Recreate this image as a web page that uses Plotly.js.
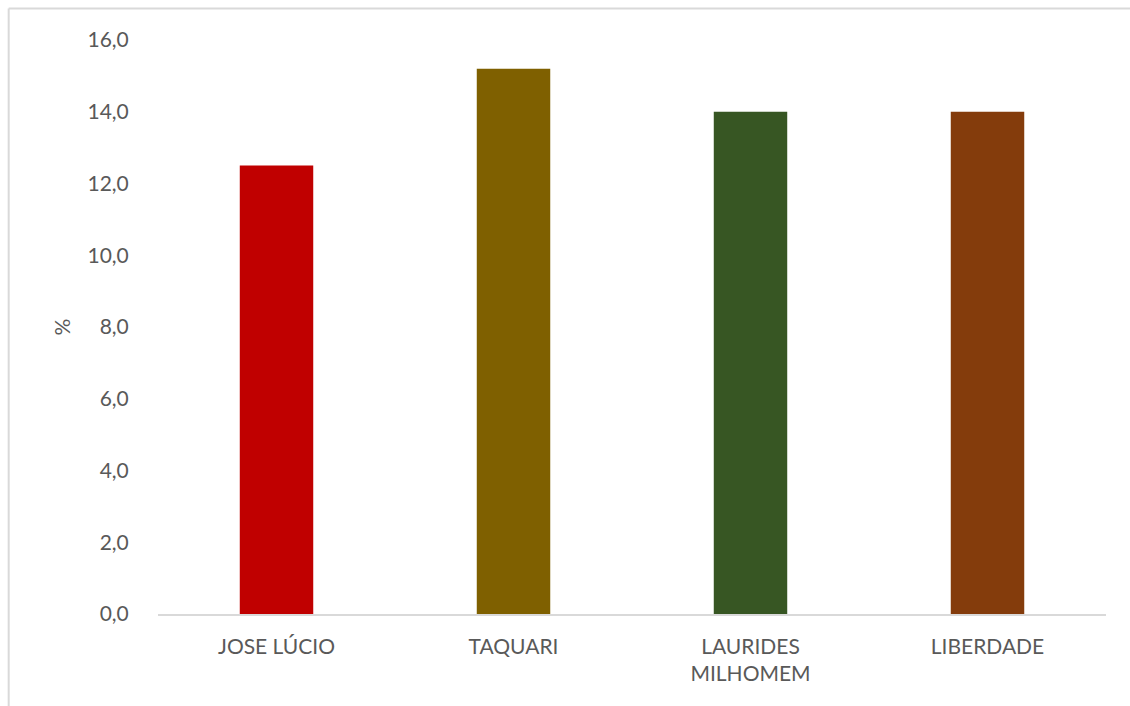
<!DOCTYPE html>
<html>
<head>
<meta charset="utf-8">
<script src="https://cdn.plot.ly/plotly-3.0.1.min.js"></script>
<style>html,body{margin:0;padding:0;background:#fff;} #chart{width:1130px;height:706px;}</style>
</head>
<body>
<div id="chart"></div>
<script>
const categories = ["JOSE LÚCIO", "TAQUARI", "LAURIDES<br>MILHOMEM", "LIBERDADE"];
const values = [12.5, 15.2, 14.0, 14.0];
const barColors = ["#C00000", "#7F6000", "#375623", "#843C0C"];
const yTicks = [0, 2, 4, 6, 8, 10, 12, 14, 16];
const yTitle = "%";

const font = {family: "Lato, 'Open Sans', sans-serif", size: 21, color: "#595959"};

Plotly.newPlot("chart", [{
  type: "bar",
  x: categories,
  y: values,
  marker: {color: barColors},
  width: 0.31,
  hoverinfo: "x+y"
}], {
  width: 1130, height: 706,
  margin: {l: 157.5, r: 23.5, t: 40, b: 92},
  paper_bgcolor: "#fff", plot_bgcolor: "#fff",
  separators: ",.",
  font: font,
  showlegend: false,
  xaxis: {
    showgrid: false, zeroline: false,
    showline: true, linecolor: "#D9D9D9", linewidth: 1.5,
    ticks: "outside", ticklen: 13, tickcolor: "rgba(0,0,0,0)",
    tickfont: font
  },
  yaxis: {
    range: [0, 16], tickvals: yTicks, tickformat: ".1f",
    showgrid: false, zeroline: false, showline: false,
    ticks: "outside", ticklen: 24, tickcolor: "rgba(0,0,0,0)",
    tickfont: font,
    title: {text: yTitle, font: font, standoff: 11}
  },
  shapes: [
    {type: "line", xref: "paper", yref: "paper", x0: -0.1575, x1: 1.1, y0: 1.0549, y1: 1.0549, line: {color: "#D9D9D9", width: 2}},
    {type: "line", xref: "paper", yref: "paper", x0: -0.1575, x1: -0.1575, y0: 1.0549, y1: -0.2, line: {color: "#D9D9D9", width: 2}}
  ]
}, {displayModeBar: false});
</script>
</body>
</html>
